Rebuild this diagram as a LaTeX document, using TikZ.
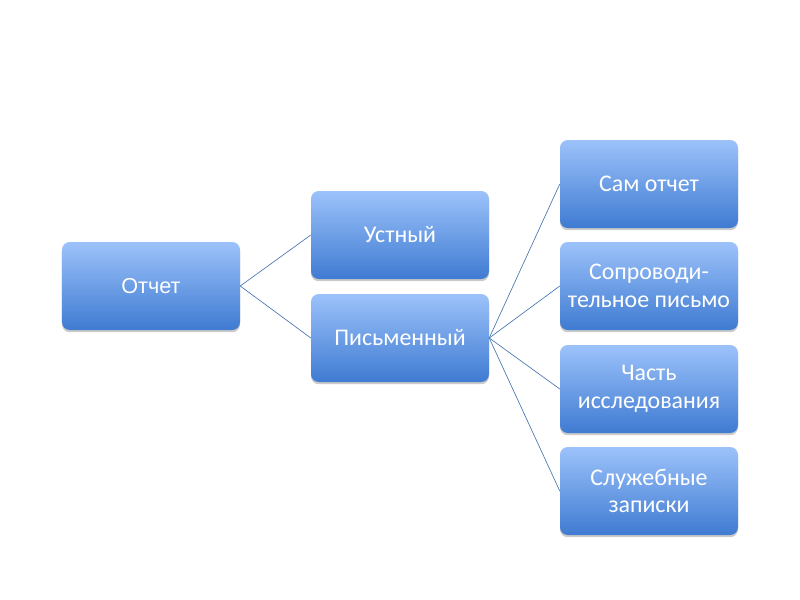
\documentclass[tikz,border=0pt]{standalone}
\usepackage{fontspec}
\setmainfont{Carlito}
\newfontfamily\arialf{Liberation Sans}
\usetikzlibrary{shadows}
\definecolor{topc}{HTML}{9CC2FA}
\definecolor{botc}{HTML}{3F7BD2}
\definecolor{linec}{HTML}{4A76B0}
\tikzset{
  box/.style={rounded corners=7pt, minimum width=160.2pt, minimum height=79.2pt,
    top color=topc, bottom color=botc, draw=none, text=white, align=center,
    font=\fontsize{21.5}{25}\selectfont,
    drop shadow={shadow xshift=0pt, shadow yshift=-2pt, opacity=0.35, fill=black!60}},
  conn/.style={draw=linec, line width=0.6pt}
}
\begin{document}
\begin{tikzpicture}[x=0.9pt,y=-0.9pt]
\useasboundingbox (0,0) rectangle (800,600);
\node[box, font=\arialf\fontsize{19.5}{23}\selectfont] (otchet) at (151,286) {Отчет};
\node[box] (ustn) at (400,235) {Устный};
\node[box] (pism) at (400,338) {Письменный};
\node[box] (sam) at (649,184) {Сам отчет};
\node[box] (sopr) at (649,286) {Сопроводи-\\тельное письмо};
\node[box] (chast) at (649,389) {Часть\\исследования};
\node[box] (sluzh) at (649,491) {Служебные\\записки};
\draw[conn] (otchet.east) -- (ustn.west);
\draw[conn] (otchet.east) -- (pism.west);
\draw[conn] (pism.east) -- (sam.west);
\draw[conn] (pism.east) -- (sopr.west);
\draw[conn] (pism.east) -- (chast.west);
\draw[conn] (pism.east) -- (sluzh.west);
\end{tikzpicture}
\end{document}
